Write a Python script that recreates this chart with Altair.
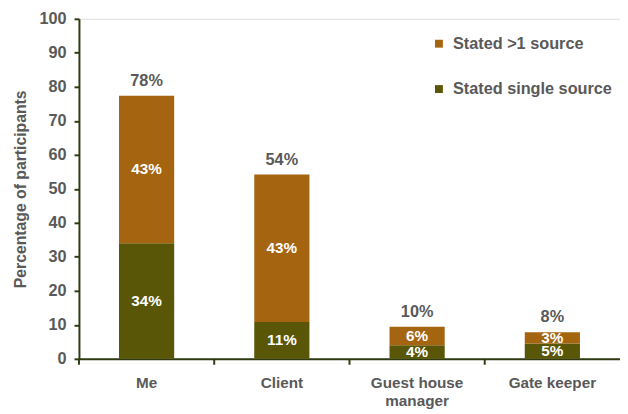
import altair as alt
import pandas as pd

categories = ["Me", "Client", "Guest house manager", "Gate keeper"]
single_vals = [34.0, 10.8, 4.0, 4.5]
multi_vals = [43.4, 43.4, 5.4, 3.3]
single_labels = ["34%", "11%", "4%", "5%"]
multi_labels = ["43%", "43%", "6%", "3%"]
total_labels = ["78%", "54%", "10%", "8%"]
series_names = ["Stated >1 source", "Stated single source"]
colors = ["#a5640f", "#5a5608"]

rows = []
for c, s, m, sl, ml in zip(categories, single_vals, multi_vals, single_labels, multi_labels):
    rows.append({"cat": c, "series": series_names[1], "y0": 0, "y1": s, "mid": s / 2, "label": sl})
    rows.append({"cat": c, "series": series_names[0], "y0": s, "y1": s + m, "mid": s + m / 2, "label": ml})
df = pd.DataFrame(rows)
tot = pd.DataFrame({"cat": categories,
                    "top": [s + m for s, m in zip(single_vals, multi_vals)],
                    "label": total_labels})

GRAY = "#595959"
AX = "#2f3a12"
FONT = "Liberation Sans"
W, H = 549, 345

xaxis = alt.Axis(labelAngle=0, ticks=False, domainColor=AX, domainWidth=2,
                 labelColor=GRAY, labelFont=FONT, labelFontWeight="bold",
                 labelFontSize=15.5, labelPadding=17, labelLineHeight=18,
                 labelExpr="datum.label == 'Guest house manager' ? ['Guest house', 'manager'] : datum.label")
xscale = alt.Scale(paddingInner=0, paddingOuter=0)
yaxis = alt.Axis(values=list(range(0, 101, 10)), grid=False, domainColor=AX, domainWidth=2,
                 tickColor=AX, tickWidth=2, tickSize=5, labelOverlap=False,
                 labelColor=GRAY, labelFont=FONT, labelFontWeight="bold", labelFontSize=16.5,
                 titleColor=GRAY, titleFont=FONT, titleFontWeight="bold", titleFontSize=16,
                 titlePadding=11, labelPadding=8)
yscale = alt.Scale(domain=[0, 100], nice=False)
YT = "Percentage of participants"

def X(**kw):
    return alt.X("cat:N", sort=categories, title=None, scale=xscale, axis=xaxis, **kw)

bars = alt.Chart(df).mark_bar(width=56).encode(
    x=X(),
    y=alt.Y("y0:Q", scale=yscale, title=YT, axis=yaxis),
    y2="y1:Q",
    color=alt.Color("series:N", scale=alt.Scale(domain=series_names, range=colors), title=None,
                    legend=alt.Legend(orient="none", legendX=357, legendY=17, symbolType="square",
                                      symbolSize=64, symbolStrokeWidth=0, rowPadding=29, labelLimit=300,
                                      labelFont=FONT, labelFontWeight="bold", labelFontSize=16.5,
                                      labelColor=GRAY, labelOffset=6)),
)

inner = alt.Chart(df).mark_text(color="white", font=FONT, fontWeight="bold", fontSize=15.5, baseline="middle").encode(
    x=X(), y=alt.Y("mid:Q", scale=yscale, title=YT, axis=yaxis), text="label:N")

totals = alt.Chart(tot).mark_text(color=GRAY, font=FONT, fontWeight="bold", fontSize=16.5,
                                  baseline="bottom", dy=-7).encode(
    x=X(), y=alt.Y("top:Q", scale=yscale, title=YT, axis=yaxis), text="label:N")

ticks = alt.Chart(tot).mark_rule(color=AX, strokeWidth=2).encode(
    x=X(bandPosition=0),
    y=alt.value(H), y2=alt.value(H + 6))

chart = alt.layer(bars, inner, totals, ticks).properties(
    width=W, height=H, autosize=alt.AutoSizeParams(type="none"),
    padding={"left": 72, "top": 8, "right": 0, "bottom": 53}
).configure_view(stroke=None).configure(background="white")

chart.save("out.html", embed_options={"renderer": "svg", "actions": False})
